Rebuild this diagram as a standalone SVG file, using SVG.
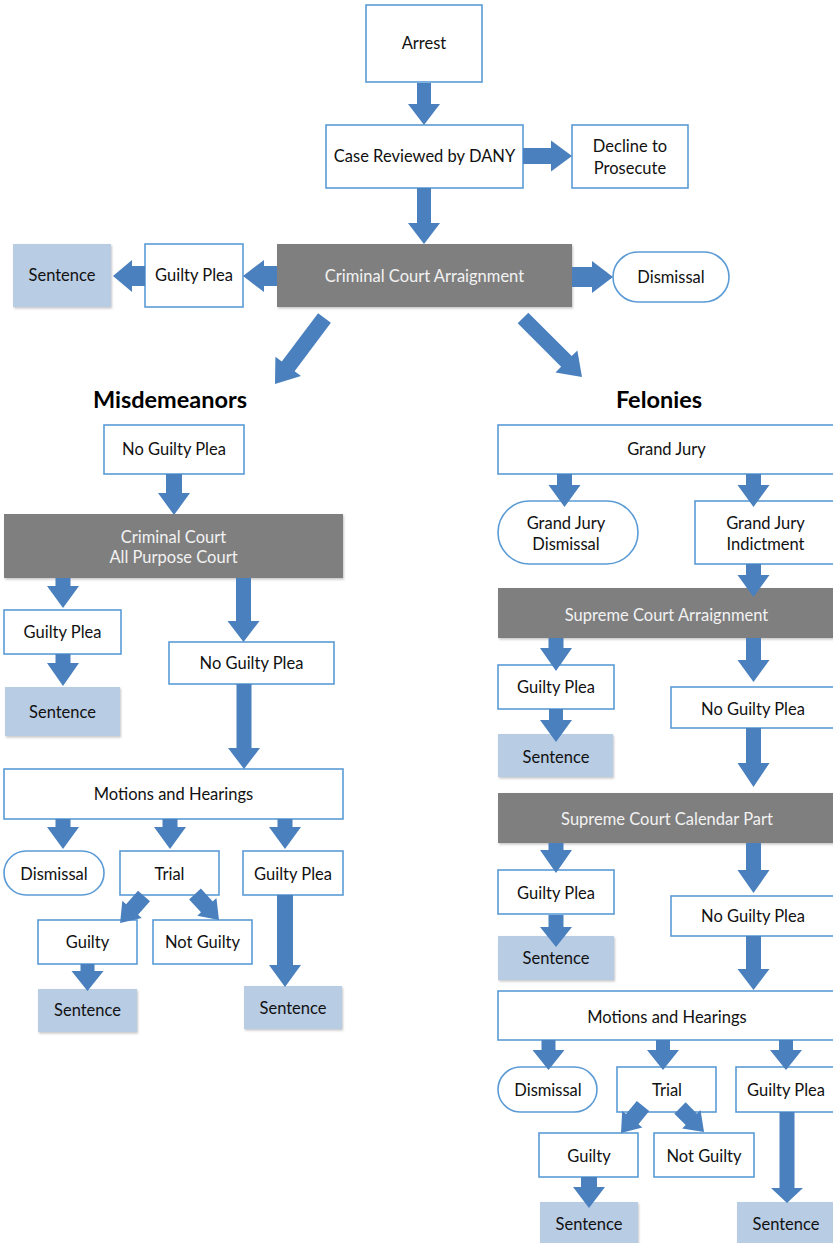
<svg xmlns="http://www.w3.org/2000/svg" width="833" height="1243" viewBox="0 0 833 1243">
<defs>
<filter id="sh" x="-10%" y="-10%" width="130%" height="130%">
<feDropShadow dx="1" dy="1.5" stdDeviation="1" flood-color="#7f7f7f" flood-opacity="0.45"/>
</filter>
</defs>
<style>
.b{fill:#fff;stroke:#5b9bd5;stroke-width:1.6}
.g{fill:#7f7f7f;filter:url(#sh)}
.s{fill:#b8cce4;filter:url(#sh)}
text{font-family:Lato,"Liberation Sans",sans-serif;font-size:16.5px;fill:#111;text-anchor:middle}
.w{fill:#f2f2f2}
.h{font-size:23.5px;font-weight:bold;fill:#000}
.a{fill:#4a80be}
</style>
<rect width="833" height="1243" fill="#fff"/>

<g id="arrest"><rect class="b" x="366" y="5" width="116" height="77"/><text x="424" y="49">Arrest</text></g>
<g id="case-reviewed"><rect class="b" x="326" y="125" width="197" height="63"/><text x="424.5" y="162">Case Reviewed by DANY</text></g>
<g id="decline"><rect class="b" x="572" y="125" width="116" height="63"/><text x="630" y="152">Decline to</text><text x="630" y="174">Prosecute</text></g>
<g id="cc-arraignment"><rect class="g" x="277" y="244" width="295" height="63"/><text class="w" x="424.5" y="282">Criminal Court Arraignment</text></g>
<g id="dismissal-top"><rect class="b" x="613" y="252" width="116" height="50" rx="25"/><text x="671" y="283">Dismissal</text></g>
<g id="guilty-plea-top"><rect class="b" x="145" y="244" width="98" height="63"/><text x="194" y="281">Guilty Plea</text></g>
<g id="sentence-top"><rect class="s" x="13" y="244" width="98" height="63"/><text x="62" y="281">Sentence</text></g>

<g id="misdemeanors"><text class="h" x="170" y="408">Misdemeanors</text></g>
<g id="felonies"><text class="h" x="659" y="408">Felonies</text></g>

<g id="m-no-guilty-plea"><rect class="b" x="104" y="425" width="140" height="49"/><text x="174" y="455">No Guilty Plea</text></g>
<g id="m-cc-all-purpose"><rect class="g" x="4" y="514" width="339" height="64"/><text class="w" x="173.5" y="543">Criminal Court</text><text class="w" x="173.5" y="563">All Purpose Court</text></g>
<g id="m-guilty-plea-1"><rect class="b" x="4" y="610" width="117" height="44"/><text x="62.5" y="638">Guilty Plea</text></g>
<g id="m-sentence-1"><rect class="s" x="5" y="687" width="115" height="49"/><text x="62.5" y="718">Sentence</text></g>
<g id="m-no-guilty-plea-2"><rect class="b" x="169" y="642" width="165" height="42"/><text x="251.5" y="669">No Guilty Plea</text></g>
<g id="m-motions"><rect class="b" x="4" y="769" width="339" height="50"/><text x="173.5" y="800">Motions and Hearings</text></g>
<g id="m-dismissal"><rect class="b" x="4" y="851" width="100" height="44" rx="22"/><text x="54" y="879.5">Dismissal</text></g>
<g id="m-trial"><rect class="b" x="120" y="851" width="99" height="44"/><text x="169.5" y="879.5">Trial</text></g>
<g id="m-guilty-plea-2"><rect class="b" x="243" y="851" width="100" height="44"/><text x="293" y="879.5">Guilty Plea</text></g>
<g id="m-guilty"><rect class="b" x="38" y="920" width="99" height="44"/><text x="87.5" y="948">Guilty</text></g>
<g id="m-not-guilty"><rect class="b" x="153" y="920" width="99" height="44"/><text x="202.5" y="948">Not Guilty</text></g>
<g id="m-sentence-2"><rect class="s" x="38" y="989" width="99" height="43"/><text x="87.5" y="1016">Sentence</text></g>
<g id="m-sentence-3"><rect class="s" x="244" y="986" width="98" height="43"/><text x="293" y="1014">Sentence</text></g>

<g id="f-grand-jury"><rect class="b" x="498" y="425" width="345" height="49"/><text x="666.5" y="455">Grand Jury</text></g>
<g id="f-gj-dismissal"><rect class="b" x="498" y="501" width="140" height="63" rx="31.5"/><text x="566" y="528.5">Grand Jury</text><text x="566" y="550">Dismissal</text></g>
<g id="f-gj-indictment"><rect class="b" x="695" y="501" width="148" height="63"/><text x="765.5" y="528.5">Grand Jury</text><text x="765.5" y="550">Indictment</text></g>
<g id="f-sc-arraignment"><rect class="g" x="498" y="588" width="345" height="50"/><text class="w" x="666.5" y="620.5">Supreme Court Arraignment</text></g>
<g id="f-guilty-plea-1"><rect class="b" x="498" y="665" width="116" height="44"/><text x="556" y="693">Guilty Plea</text></g>
<g id="f-sentence-1"><rect class="s" x="498" y="734" width="115" height="43"/><text x="556" y="762.5">Sentence</text></g>
<g id="f-no-guilty-plea-1"><rect class="b" x="671" y="687" width="172" height="41"/><text x="753" y="715">No Guilty Plea</text></g>
<g id="f-sc-calendar"><rect class="g" x="498" y="793" width="345" height="50"/><text class="w" x="667" y="825">Supreme Court Calendar Part</text></g>
<g id="f-guilty-plea-2"><rect class="b" x="498" y="870" width="116" height="44"/><text x="556" y="899">Guilty Plea</text></g>
<g id="f-sentence-2"><rect class="s" x="498" y="936" width="116" height="44"/><text x="556" y="964">Sentence</text></g>
<g id="f-no-guilty-plea-2"><rect class="b" x="671" y="896" width="172" height="40"/><text x="753" y="922">No Guilty Plea</text></g>
<g id="f-motions"><rect class="b" x="498" y="991" width="345" height="49"/><text x="667" y="1022.5">Motions and Hearings</text></g>
<g id="f-dismissal"><rect class="b" x="498" y="1067" width="99" height="45" rx="22.5"/><text x="548" y="1096">Dismissal</text></g>
<g id="f-trial"><rect class="b" x="617" y="1067" width="99" height="45"/><text x="667" y="1096">Trial</text></g>
<g id="f-guilty-plea-3"><rect class="b" x="736" y="1067" width="105" height="45"/><text x="786" y="1096">Guilty Plea</text></g>
<g id="f-guilty"><rect class="b" x="539" y="1133" width="99" height="44"/><text x="589" y="1161.5">Guilty</text></g>
<g id="f-not-guilty"><rect class="b" x="654" y="1133" width="100" height="44"/><text x="704" y="1161.5">Not Guilty</text></g>
<g id="f-sentence-3"><rect class="s" x="540" y="1202" width="98" height="45"/><text x="589" y="1230">Sentence</text></g>
<g id="f-sentence-4"><rect class="s" x="737" y="1202" width="100" height="45"/><text x="786" y="1230">Sentence</text></g>

<g id="connectors" class="a">
<path transform="translate(424)" d="M-7 83H7V104H16L0 125L-16 104H-7Z"/>
<path transform="translate(424)" d="M-7 188H7V223H16L0 244L-16 223H-7Z"/>
<path d="M523 148H551V140.5L572 156L551 171.5V164H523Z"/>
<path d="M572 267H592V261L613 277L592 293V287H572Z"/>
<path d="M277 266H264V260L243 276L264 292V286H277Z"/>
<path d="M145 266H132V260L113 276L132 292V286H145Z"/>
<path transform="translate(324.5 318) rotate(126.87)" d="M0 -8H60.5V-16L82.5 0L60.5 16V8H0Z"/>
<path transform="translate(523 318) rotate(45)" d="M0 -7.5H61.4V-15.5L83.4 0L61.4 15.5V7.5H0Z"/>

<path transform="translate(174)" d="M-8 474H8V493H16L0 515L-16 493H-8Z"/>
<path transform="translate(63)" d="M-7.5 578H7.5V586H16L0 608L-16 586H-7.5Z"/>
<path transform="translate(63)" d="M-7.5 654H7.5V663H16L0 686L-16 663H-7.5Z"/>
<path transform="translate(243.5)" d="M-7.5 578H7.5V621H16L0 642L-16 621H-7.5Z"/>
<path transform="translate(244)" d="M-7.5 684H7.5V748H16L0 769L-16 748H-7.5Z"/>
<path transform="translate(63)" d="M-7.5 819H7.5V827H16L0 849L-16 827H-7.5Z"/>
<path transform="translate(170)" d="M-7.5 819H7.5V827H16L0 849L-16 827H-7.5Z"/>
<path transform="translate(285)" d="M-7.5 819H7.5V827H16L0 849L-16 827H-7.5Z"/>
<path transform="translate(144 896) rotate(131.6)" d="M0 -8H18V-13L36 0L18 13V8H0Z"/>
<path transform="translate(195 894) rotate(47.3)" d="M0 -8H17.5V-13L35.4 0L17.5 13V8H0Z"/>
<path transform="translate(87.5)" d="M-7 964H7V971H16L0 991L-16 971H-7Z"/>
<path transform="translate(285)" d="M-8 895H8V965H16L0 987L-16 965H-8Z"/>

<path transform="translate(564.5)" d="M-7.5 474H7.5V485H16L0 507L-16 485H-7.5Z"/>
<path transform="translate(753.5)" d="M-7.5 474H7.5V485H16L0 507L-16 485H-7.5Z"/>
<path transform="translate(753.5)" d="M-7.5 564H7.5V575H16L0 597L-16 575H-7.5Z"/>
<path transform="translate(556)" d="M-7.5 638H7.5V648H16L0 671L-16 648H-7.5Z"/>
<path transform="translate(753.5)" d="M-7.5 638H7.5V660H16L0 682L-16 660H-7.5Z"/>
<path transform="translate(556)" d="M-7 709H7V720H16L0 742L-16 720H-7Z"/>
<path transform="translate(753.5)" d="M-7.5 728H7.5V763H16L0 787L-16 763H-7.5Z"/>
<path transform="translate(556)" d="M-7.5 843H7.5V850H16L0 873L-16 850H-7.5Z"/>
<path transform="translate(753.5)" d="M-7.5 843H7.5V870H16L0 893L-16 870H-7.5Z"/>
<path transform="translate(556)" d="M-7.5 915H7.5V927H16L0 947L-16 927H-7.5Z"/>
<path transform="translate(753.5)" d="M-7.5 936H7.5V969H16L0 990L-16 969H-7.5Z"/>
<path transform="translate(548.5)" d="M-7 1040H7V1050H16L0 1070L-16 1050H-7Z"/>
<path transform="translate(663)" d="M-7 1040H7V1050H16L0 1070L-16 1050H-7Z"/>
<path transform="translate(786)" d="M-7 1040H7V1050H16L0 1070L-16 1050H-7Z"/>
<path transform="translate(643 1106) rotate(129.2)" d="M0 -8H17V-13L34.8 0L17 13V8H0Z"/>
<path transform="translate(680 1108) rotate(45)" d="M0 -8H16V-13L34 0L16 13V8H0Z"/>
<path transform="translate(589)" d="M-8 1177H8V1187H16L0 1208L-16 1187H-8Z"/>
<path transform="translate(787)" d="M-7.5 1112H7.5V1188H16L0 1203L-16 1188H-7.5Z"/>
</g>
</svg>
